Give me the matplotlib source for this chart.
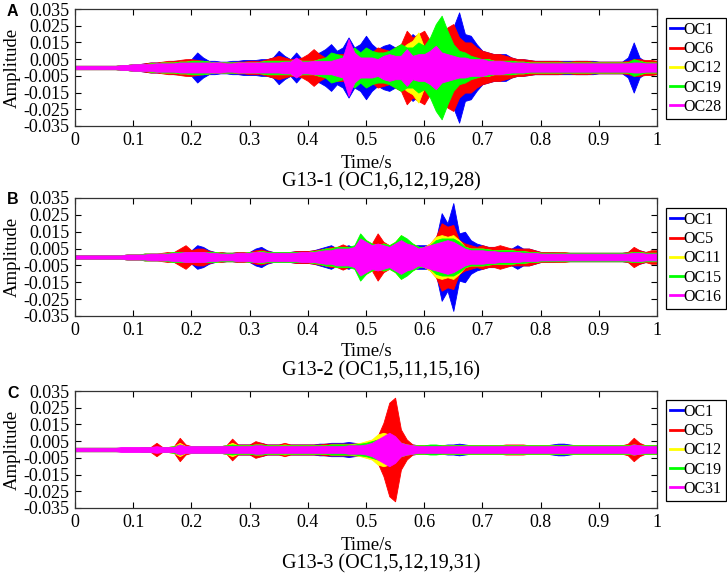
import numpy as np
import matplotlib
matplotlib.use("Agg")
import matplotlib.pyplot as plt
from matplotlib.lines import Line2D

plt.rcParams.update({
    "font.family": "serif",
    "font.serif": ["Liberation Serif", "DejaVu Serif"],
    "xtick.direction": "in",
    "ytick.direction": "in",
    "xtick.top": True,
    "ytick.right": True,
})

W, H = 727, 583

# time grid of the envelope readings (s)
t = np.round(np.arange(0, 1.0001, 0.01), 2)

COLORS = ["#0000FF", "#FF0000", "#FFFF00", "#00FF00", "#FF00FF"]

# peak amplitude envelope, in units of 1e-3
# --- panel A : G13-1 ---
labels_a = ["OC1", "OC6", "OC12", "OC19", "OC28"]
a_oc1 = [1, 1, 1, 1, 1, 1, 1, 1, 1.5, 1.5,
         2, 2, 2.5, 3, 3, 3, 3.5, 4, 4, 4.5,
         5, 9, 6, 4, 4, 3.5, 3.5, 4, 4, 4.5,
         4.5, 4.5, 5, 5, 6, 10, 7, 5, 9, 5,
         6, 8, 9, 11, 14, 10, 12, 18, 12, 14,
         19, 14, 11, 13, 14, 12, 12, 16, 20, 17,
         18, 16, 14, 17, 20, 24, 33, 20, 19, 14,
         10, 9, 8, 8, 8, 6, 5, 5, 4.5, 4,
         4, 4, 4, 4, 4, 4, 4, 4, 4, 4,
         3.5, 3.5, 3.5, 3.5, 3.5, 6, 15, 6, 3.5, 3.5,
         3.5]
a_oc6 = [1, 1, 1, 1, 1, 1, 1, 1, 1.5, 1.5,
         2, 2, 2.5, 3, 3, 3.5, 4, 4, 4.5, 5,
         5, 4.5, 4, 3.5, 3, 3, 3, 3, 3.5, 3.5,
         4, 4, 4, 5, 6, 7, 6, 5, 5, 6,
         8, 11, 8, 6, 7, 8, 8, 9, 8, 7,
         10, 9, 12, 11, 10, 12, 14, 22, 18, 20,
         22, 16, 17, 20, 24, 26, 18, 15, 15, 12,
         10, 9, 8, 8, 7, 6, 5, 5, 4.5, 4,
         4, 4, 4, 4, 3.5, 3.5, 4, 4, 4, 3.5,
         3.5, 3.5, 3.5, 3.5, 3.5, 4, 5, 5, 4.5, 4.5,
         4]
a_oc12 = [1, 1, 1, 1, 1, 1, 1, 1, 1.5, 1.5,
          2, 2, 2, 2.5, 2.5, 3, 3, 3, 3.5, 3.5,
          4, 4, 4, 3.5, 3, 3, 3, 3, 3, 3,
          3, 3, 3.5, 4, 4, 4, 4, 4, 5, 4,
          4, 4, 5, 5, 6, 7, 6, 8, 8, 7,
          9, 9, 8, 8, 9, 10, 11, 14, 16, 21,
          12, 10, 11, 10, 9, 9, 8, 7, 6, 5,
          5, 5, 4, 4, 4, 4, 3.5, 3.5, 3, 3,
          3, 3, 3, 3, 3, 3, 3, 3, 3, 3,
          3, 3, 3, 3, 3, 3, 4, 4, 3, 3,
          3]
a_oc19 = [1, 1, 1, 1, 1, 1, 1, 1, 1.5, 1.5,
          2, 2, 2, 2.5, 2.5, 3, 3, 3, 3.5, 3.5,
          4, 4, 4, 3.5, 3, 3, 3, 3, 3, 3,
          3, 3, 3.5, 4, 4, 4, 4, 4, 4.5, 4,
          4, 4, 5, 6, 9, 8, 7, 10, 12, 9,
          12, 10, 9, 9, 10, 12, 14, 12, 12, 15,
          13, 18, 26, 31, 22, 14, 10, 9, 7, 6,
          5, 5, 4, 4, 4, 4, 3.5, 3.5, 3, 3,
          3, 3, 3, 3, 3, 3, 3, 3, 3, 3,
          3, 3, 3, 3, 3, 3, 5, 4, 3, 3,
          3]
a_oc28 = [1, 1, 1, 1, 1, 1, 1, 1, 1.5, 1.5,
          2, 2, 2, 2, 2.5, 2.5, 2.5, 2.5, 3, 3,
          3, 3, 3, 3, 3, 3, 2.5, 2.5, 3, 3,
          3, 3, 3, 3, 3, 3, 3.5, 3.5, 6, 3.5,
          3.5, 4, 4, 4, 4, 5, 6, 17, 9, 6,
          6, 6, 5, 7, 8, 7, 7, 11, 7, 8,
          8, 10, 13, 9, 8, 7, 6, 6, 5, 5,
          5, 4, 4, 4, 3.5, 3, 3, 3, 2.5, 2.5,
          2.5, 2.5, 2.5, 2.5, 2.5, 2.5, 2.5, 2.5, 2.5, 2.5,
          2.5, 2.5, 2.5, 2.5, 2.5, 2.5, 3, 3, 2.5, 2.5,
          2.5]

# --- panel B : G13-2 ---
labels_b = ["OC1", "OC5", "OC11", "OC15", "OC16"]
b_oc1 = [1, 1, 1, 1, 1, 1, 1, 1, 1, 1.5,
         1.5, 1.5, 2, 2, 2, 2, 2.5, 3, 3, 3.5,
         4, 7, 6, 4, 3, 3, 2.5, 2.5, 3, 3,
         3, 5, 6, 4, 3, 3, 3, 3, 3.5, 3.5,
         3.5, 4, 5, 6, 7, 5, 6, 7, 5, 6,
         6, 5, 5, 5, 5, 5, 5, 6, 7, 7,
         7, 7, 10, 26, 20, 32, 14, 15, 10, 8,
         7, 6, 6, 5, 5, 5, 7, 5, 5, 4,
         3, 3, 3, 2.5, 2.5, 2.5, 2.5, 2.5, 2.5, 2.5,
         2.5, 2.5, 2.5, 2.5, 2.5, 3, 5, 4, 3, 3,
         3]
b_oc5 = [1, 1, 1, 1, 1, 1, 1, 1, 1, 1.5,
         1.5, 1.5, 2, 2, 2, 2.5, 3, 3, 5, 7,
         4, 5, 5, 3.5, 3, 3, 2.5, 2.5, 3, 3,
         3, 4, 4.5, 3.5, 3, 3, 3, 3, 3.5, 3.5,
         3.5, 4, 4.5, 5, 6, 6, 7.5, 6, 5, 6,
         7, 8, 14, 9, 7, 7, 8, 7, 6, 6,
         6, 8, 12, 20, 18, 19, 10, 8, 7, 6,
         7, 6, 6, 7, 6, 5, 5, 5, 5, 4,
         3, 3, 3, 3, 3, 2.5, 2.5, 2.5, 2.5, 2.5,
         2.5, 2.5, 2.5, 2.5, 2.5, 3, 6, 4, 3, 4,
         4]
b_oc11 = [1, 1, 1, 1, 1, 1, 1, 1, 1, 1.5,
          1.5, 1.5, 2, 2, 2, 2, 2.5, 3, 3, 3,
          3, 3, 3, 3, 3, 2.5, 2.5, 2.5, 2.5, 2.5,
          3, 3, 3.5, 3, 3, 3, 3, 3, 3, 3,
          3, 3.5, 4, 5, 5, 6, 6, 6, 6, 13,
          10, 8, 7, 8, 7, 9, 13, 10, 8, 6,
          6, 8, 12, 13, 12, 13, 10, 6, 5, 5,
          5, 4.5, 4, 4, 4, 4, 3.5, 3.5, 3, 3,
          2.5, 2.5, 2.5, 2.5, 2.5, 2.5, 2.5, 2.5, 2.5, 2.5,
          2.5, 2.5, 2.5, 2.5, 2.5, 2.5, 3, 3, 2.5, 2.5,
          2.5]
b_oc15 = [1, 1, 1, 1, 1, 1, 1, 1, 1, 1.5,
          1.5, 1.5, 2, 2, 2, 2, 2.5, 3, 3, 3,
          3, 3, 3, 3, 3, 2.5, 2.5, 2.5, 2.5, 2.5,
          3, 3, 3.5, 3, 3, 3, 3, 3, 3, 3,
          3, 3.5, 4, 5, 5, 6, 6, 6, 7, 14,
          10, 8, 7, 8, 7, 9, 13, 11, 8, 6,
          6, 7, 10, 11, 11, 11, 9, 6, 5, 5,
          5, 4.5, 4, 4, 4, 4, 3.5, 3.5, 3, 3,
          2.5, 2.5, 2.5, 2.5, 2.5, 2.5, 2.5, 2.5, 2.5, 2.5,
          2.5, 2.5, 2.5, 2.5, 2.5, 2.5, 3, 3, 2.5, 2.5,
          2.5]
b_oc16 = [1, 1, 1, 1, 1, 1, 1, 1, 1, 1.5,
          1.5, 1.5, 1.5, 2, 2, 2, 2, 2.5, 2.5, 3,
          3, 3, 3, 2.5, 2.5, 2, 2, 2, 2.5, 2.5,
          2.5, 3, 3, 2.5, 2.5, 2.5, 2.5, 2.5, 2.5, 3,
          3, 3, 3.5, 4, 4, 5, 5, 5, 6, 11,
          9, 7, 8, 7, 6, 8, 10, 8, 7, 5,
          6, 7, 8, 9, 10, 9, 7, 5, 4, 4,
          4, 3.5, 3.5, 3, 3, 3, 3, 2.5, 2.5, 2.5,
          2, 2, 2, 2, 2, 2, 2, 2, 2, 2,
          2, 2, 2, 2, 2, 2, 2.5, 2.5, 2, 2,
          2]

# --- panel C : G13-3 ---
labels_c = ["OC1", "OC5", "OC12", "OC19", "OC31"]
c_oc1 = [1, 1, 1, 1, 1, 1, 1, 1, 1, 1,
         1, 1, 1.5, 1.5, 1.5, 1.5, 1.5, 1.5, 2, 2,
         2, 2, 2, 2, 2, 2, 2.5, 2.5, 3, 3,
         3, 4, 4, 3, 3, 3, 3, 3, 3, 3,
         3, 3, 3.5, 3.5, 4, 4, 4, 4.5, 4, 3.5,
         4, 4, 5, 5, 6, 5, 4, 3, 3, 2.5,
         2.5, 2.5, 2.5, 2.5, 3, 3, 3.5, 3, 2.5, 2.5,
         2.5, 2.5, 2.5, 2.5, 2.5, 2.5, 2.5, 2.5, 2.5, 2.5,
         2.5, 2.5, 3, 3.5, 3.5, 3, 2.5, 2.5, 2.5, 2.5,
         2.5, 2.5, 2.5, 2.5, 2.5, 2.5, 3, 3, 2.5, 2.5,
         2.5]
c_oc5 = [1, 1, 1, 1, 1, 1, 1, 1, 1, 1,
         1, 1, 1.5, 1.5, 4, 1.5, 1.5, 2, 7, 3,
         2, 2, 2, 2, 2, 2, 2.5, 6.5, 3, 3,
         3, 5, 4, 3, 3, 3, 4, 3, 3, 3,
         3, 3, 3, 3.5, 3.5, 3.5, 3.5, 3.5, 3.5, 3.5,
         4, 5, 8, 16, 28, 31, 12, 6, 3, 2.5,
         2.5, 2.5, 2.5, 2.5, 2.5, 2.5, 2.5, 2.5, 2.5, 2.5,
         2.5, 2.5, 2.5, 2.5, 3, 3, 3, 3, 2.5, 2.5,
         2.5, 2.5, 2.5, 2.5, 2.5, 2.5, 2.5, 2.5, 2.5, 2.5,
         2.5, 2.5, 2.5, 2.5, 2.5, 3.5, 7, 4, 2.5, 2.5,
         2.5]
c_oc12 = [1, 1, 1, 1, 1, 1, 1, 1, 1, 1,
          1, 1, 1.5, 1.5, 1.5, 1.5, 1.5, 2, 4, 2,
          2, 2, 2, 2, 2, 2, 2.5, 4, 2.5, 2.5,
          2.5, 3, 3, 2.5, 2.5, 2.5, 3, 2.5, 2.5, 2.5,
          2.5, 2.5, 2.5, 2.5, 3, 3, 3, 3, 3.5, 4,
          5, 6, 9, 10, 9, 7, 4, 3, 2.5, 2.5,
          2.5, 2.5, 2.5, 2.5, 2.5, 2.5, 2.5, 2.5, 2.5, 2.5,
          2.5, 2.5, 2.5, 2.5, 2.5, 2.5, 2.5, 2.5, 2.5, 2.5,
          2.5, 2.5, 2.5, 2.5, 2.5, 2.5, 2.5, 2.5, 2.5, 2.5,
          2.5, 2.5, 2.5, 2.5, 2.5, 2.5, 3, 2.5, 2.5, 2.5,
          2.5]
c_oc19 = [1, 1, 1, 1, 1, 1, 1, 1, 1, 1,
          1, 1, 1.5, 1.5, 1.5, 1.5, 1.5, 2, 3, 2,
          2, 2, 2, 2, 2, 2, 2.5, 3, 2.5, 2.5,
          2.5, 3, 3, 2.5, 2.5, 2.5, 2.5, 2.5, 2.5, 2.5,
          2.5, 2.5, 2.5, 2.5, 3, 3, 3, 3, 3, 3.5,
          4, 5, 6, 7, 8, 6, 4, 3, 2.5, 2.5,
          2.5, 3, 3, 2.5, 2.5, 2.5, 2.5, 2.5, 2.5, 2.5,
          2.5, 2.5, 2.5, 2.5, 2.5, 2.5, 2.5, 2.5, 2.5, 2.5,
          2.5, 2.5, 2.5, 2.5, 2.5, 2.5, 2.5, 2.5, 2.5, 2.5,
          2.5, 2.5, 2.5, 2.5, 2.5, 2.5, 3, 2.5, 2.5, 2.5,
          2.5]
c_oc31 = [1, 1, 1, 1, 1, 1, 1, 1, 1.5, 1.5,
          1.5, 1.5, 1.5, 1.5, 2, 1.5, 1.5, 1.5, 3, 2,
          2, 2, 2, 2, 2, 2, 2, 2, 2, 2,
          2, 2.5, 2.5, 2, 2, 2, 2, 2, 2, 2,
          2, 2, 2, 2, 2, 2, 2, 2.5, 2.5, 2.5,
          3, 4, 6, 8, 10, 8, 4, 3, 2.5, 2,
          2, 2, 2, 2, 2, 2, 2, 2, 2, 2,
          2, 2, 2, 2, 2, 2, 2, 2, 2, 2,
          2, 2, 2, 2, 2, 2, 2, 2, 2, 2,
          2, 2, 2, 2, 2, 2, 3, 2.5, 2, 2,
          2]

panels = [
    ("A", labels_a, [a_oc1, a_oc6, a_oc12, a_oc19, a_oc28], "G13-1 (OC1,6,12,19,28)"),
    ("B", labels_b, [b_oc1, b_oc5, b_oc11, b_oc15, b_oc16], "G13-2 (OC1,5,11,15,16)"),
    ("C", labels_c, [c_oc1, c_oc5, c_oc12, c_oc19, c_oc31], "G13-3 (OC1,5,12,19,31)"),
]

# axes boxes in pixels: (top, bottom)
boxes = [(9, 126), (198, 316), (391, 508)]
legend_tops = [18, 208, 400]
AX_L, AX_R = 75, 657

fig = plt.figure(figsize=(W / 100, H / 100), dpi=100)

for (letter, labels, series, title), (top, bot), ltop in zip(panels, boxes, legend_tops):
    ax = fig.add_axes([AX_L / W, 1 - bot / H, (AX_R - AX_L) / W, (bot - top) / H])
    for env, col in zip(series, COLORS):
        e = np.asarray(env) * 1e-3
        ax.fill_between(t, -e, e, color=col, lw=0.6, edgecolor=col)
    ax.set_xlim(0, 1)
    ax.set_ylim(-0.035, 0.035)
    ax.set_xticks(np.round(np.arange(0, 1.01, 0.1), 1))
    ax.set_xticklabels(["0", "0.1", "0.2", "0.3", "0.4", "0.5", "0.6", "0.7", "0.8", "0.9", "1"])
    yt = [0.035, 0.025, 0.015, 0.005, -0.005, -0.015, -0.025, -0.035]
    ax.set_yticks(yt)
    ax.set_yticklabels([f"{v:.3f}" for v in yt])
    ax.tick_params(labelsize=13, length=4, width=0.8, pad=4)
    for s in ax.spines.values():
        s.set_linewidth(0.9)
        s.set_color("#333333")

    # y label centred about 12 px from the left edge
    fig.text(12 / W, 1 - (top + bot) / 2 / H, "Amplitude", fontsize=13.5,
             rotation=90, ha="center", va="center")
    fig.text(366 / W, 1 - (top + 154) / H, "Time/s", fontsize=13.5, ha="center", va="center")
    fig.text(381 / W, 1 - (top + 173) / H, title, fontsize=14.5, ha="center", va="center")
    fig.text(7 / W, 1 - (top + 2) / H, letter, fontsize=11.5, fontweight="bold",
             family="Liberation Sans", ha="left", va="center")

    handles = [Line2D([], [], color=c, lw=2) for c in COLORS]
    leg = fig.legend(handles, labels, loc="upper left",
                     bbox_to_anchor=(666 / W, 1 - ltop / H), bbox_transform=fig.transFigure,
                     borderaxespad=0, fontsize=11.5, handlelength=0.8, handletextpad=0.05,
                     labelspacing=0.2, borderpad=0.25, fancybox=False, framealpha=1)
    leg.get_frame().set_edgecolor("black")
    leg.get_frame().set_linewidth(0.9)

fig.savefig("out.png", dpi=100)
